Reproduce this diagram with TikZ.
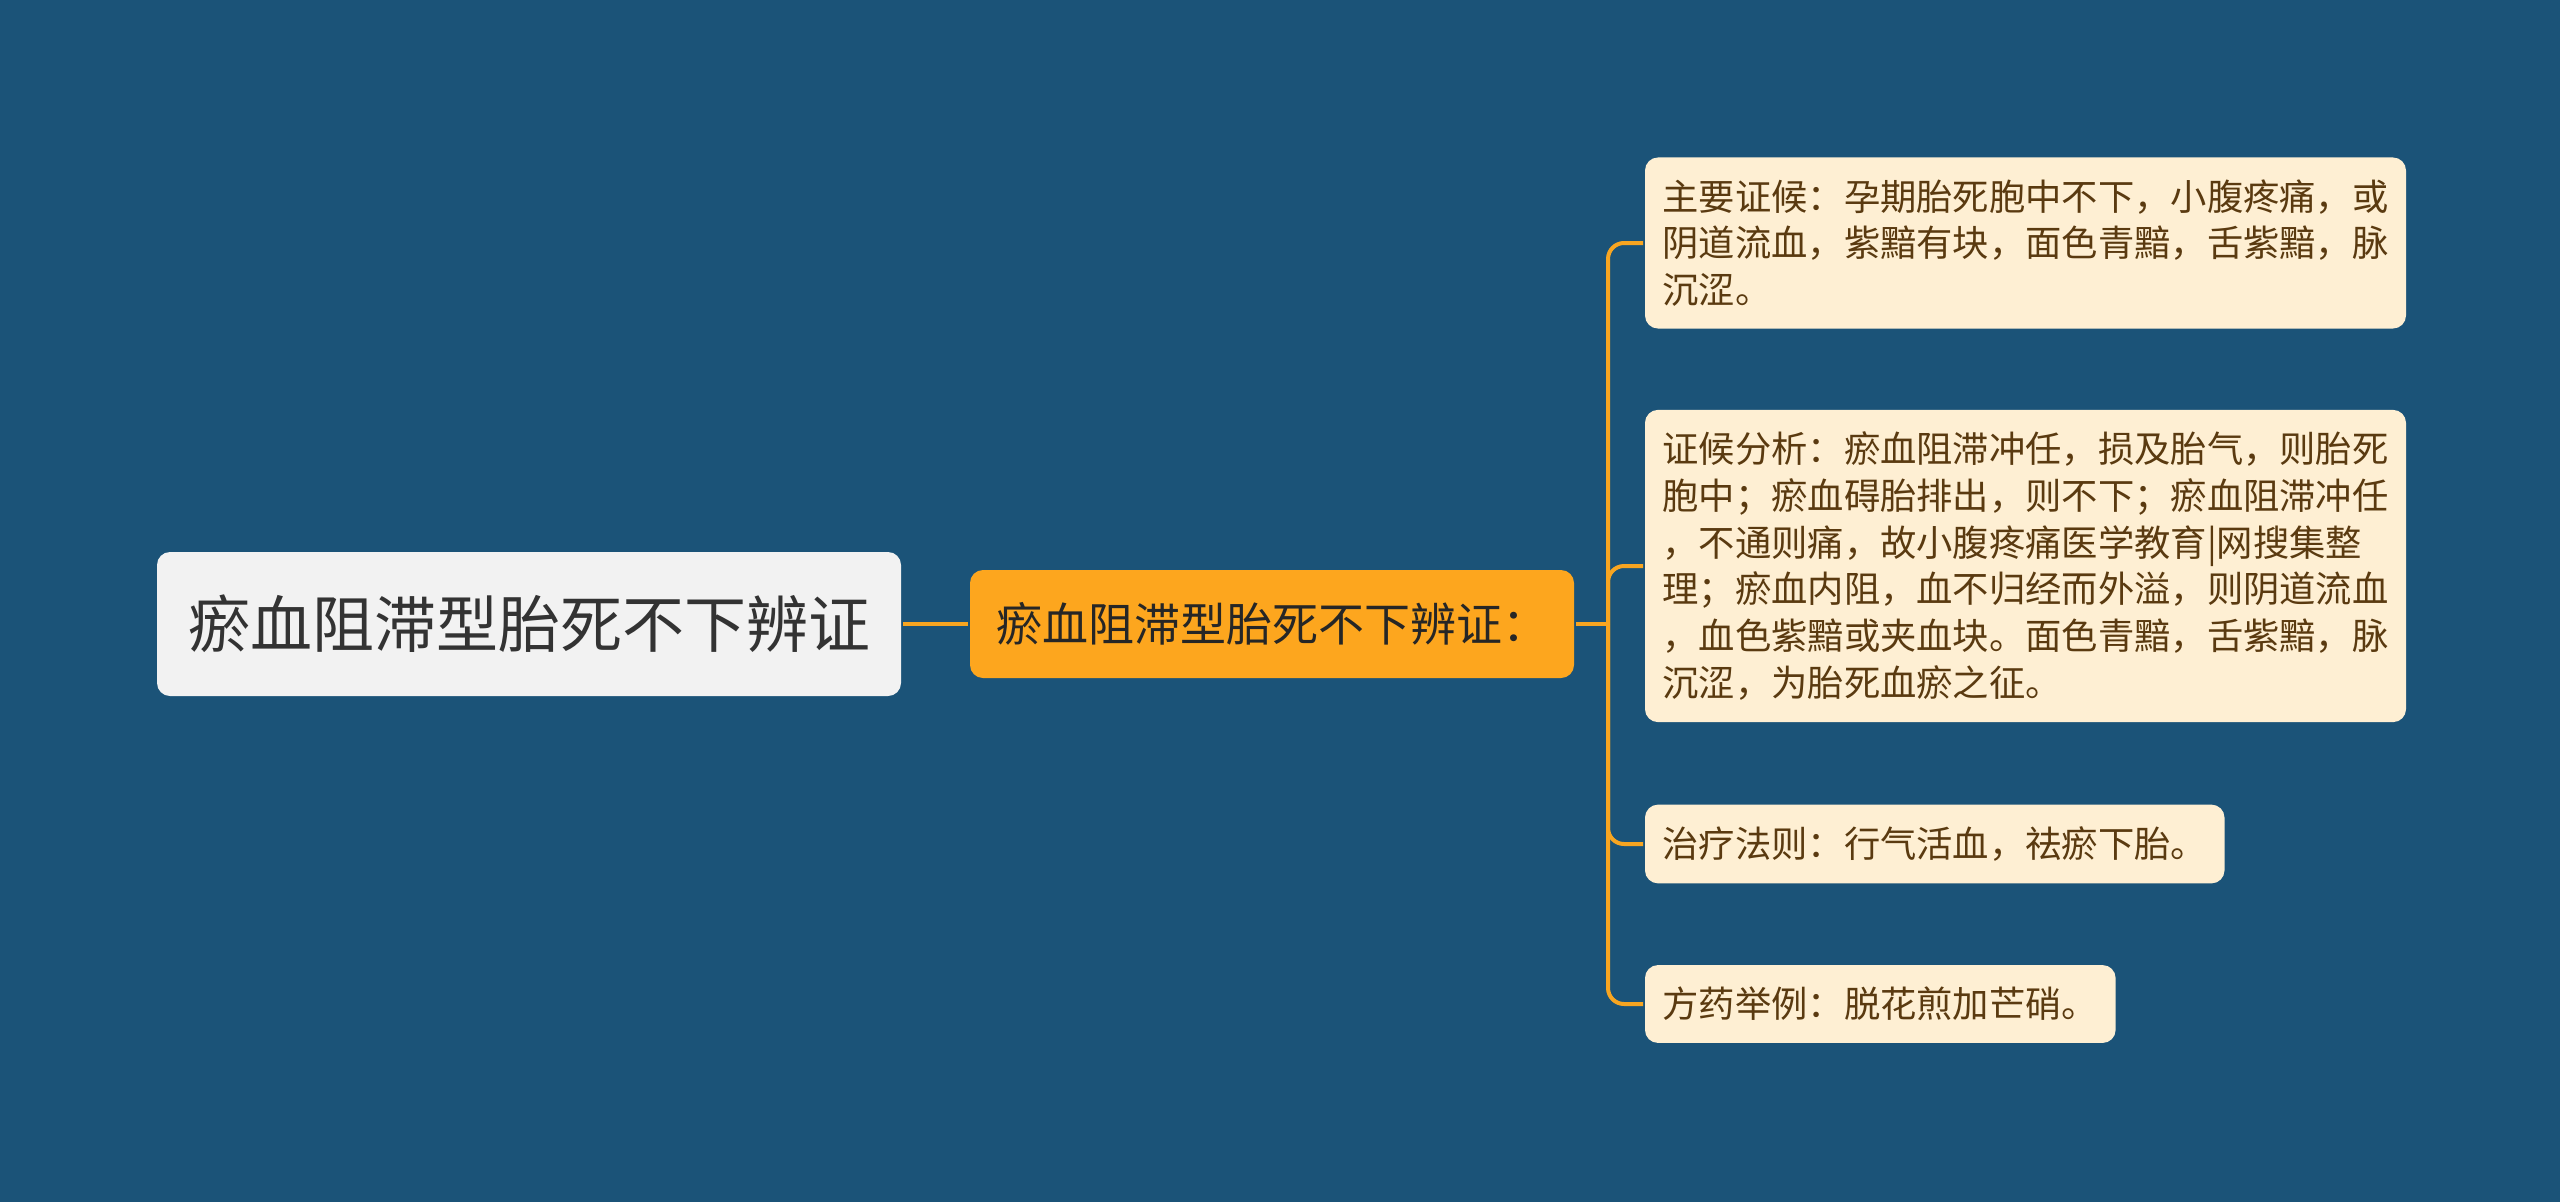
\documentclass[tikz,border=0pt]{standalone}
\usepackage{fontspec}
\setmainfont{Noto Sans CJK SC}
\definecolor{bgblue}{HTML}{1B5378}
\definecolor{rootgray}{HTML}{F2F2F2}
\definecolor{topicorange}{HTML}{FDA61E}
\definecolor{leafcream}{HTML}{FEEFD3}
\definecolor{leafbrown}{HTML}{5A3A10}
\definecolor{linkorange}{HTML}{F7A521}
\begin{document}
\begin{tikzpicture}[x=1pt,y=-1pt,line width=4pt,linkorange]
	\tikzstyle{root}=[rectangle,rounded corners=13pt,fill=rootgray,text=black!80,minimum width=744pt,minimum height=144pt,inner sep=0pt,font=\fontsize{62}{74}\selectfont]
	\tikzstyle{topic}=[rectangle,rounded corners=13pt,fill=topicorange,text=black!85,minimum width=604pt,minimum height=108pt,inner sep=0pt,font=\fontsize{46}{56}\selectfont]
	\tikzstyle{leaf}=[rectangle,rounded corners=13pt,fill=leafcream,text=leafbrown,anchor=west,align=left,inner xsep=17.5pt,inner ysep=22pt,font=\fontsize{36.3}{46.7}\selectfont]
	\useasboundingbox[fill=bgblue] (0,0) rectangle (2560,1202);
	\node[root] (R) at (529, 624) {瘀血阻滞型胎死不下辨证};
	\node[topic] (T) at (1272, 624) {瘀血阻滞型胎死不下辨证：};
	\coordinate (J) at (1608, 624);
	\node[leaf] (L1) at (1643, 243) {主要证候：孕期胎死胞中不下，小腹疼痛，或\\阴道流血，紫黯有块，面色青黯，舌紫黯，脉\\沉涩。};
	\node[leaf] (L2) at (1643, 566) {证候分析：瘀血阻滞冲任，损及胎气，则胎死\\胞中；瘀血碍胎排出，则不下；瘀血阻滞冲任\\，不通则痛，故小腹疼痛医学教育|网搜集整\\理；瘀血内阻，血不归经而外溢，则阴道流血\\，血色紫黯或夹血块。面色青黯，舌紫黯，脉\\沉涩，为胎死血瘀之征。};
	\node[leaf] (L3) at (1643, 844) {治疗法则：行气活血，祛瘀下胎。};
	\node[leaf] (L4) at (1643, 1004) {方药举例：脱花煎加芒硝。};

	\draw (R) -- (T);
	\draw (T) -- (J);

	\draw[rounded corners=16pt] (J) |- (L1.west);
	\draw[rounded corners=16pt] (J) |- (L2.west);
	\draw[rounded corners=16pt] (J) |- (L3.west);
	\draw[rounded corners=16pt] (J) |- (L4.west);
\end{tikzpicture}
\end{document}
